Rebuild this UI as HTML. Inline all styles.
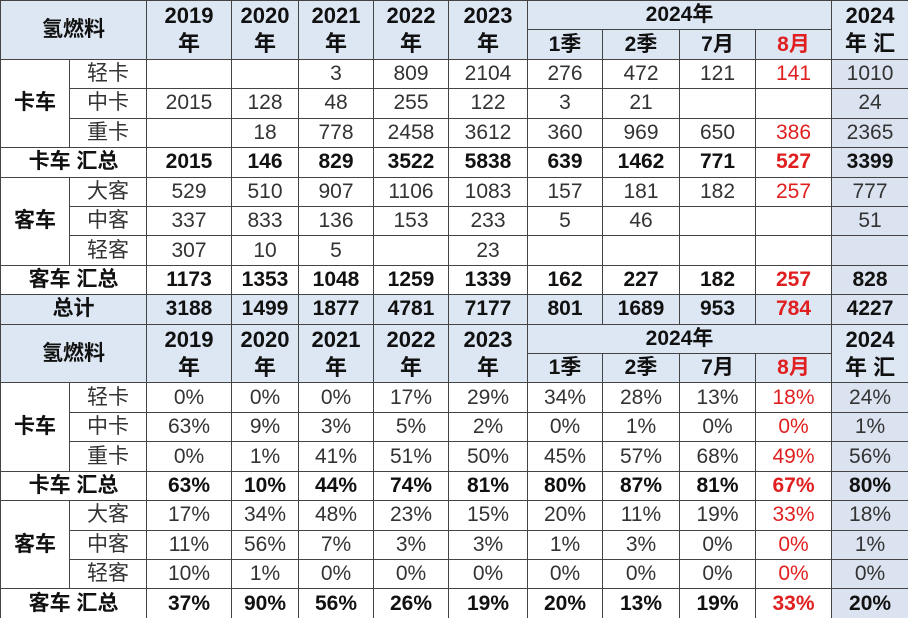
<!DOCTYPE html>
<html><head><meta charset="utf-8"><style>
html,body{margin:0;padding:0;background:#fff;width:908px;height:618px;overflow:hidden}
table{border-collapse:collapse;table-layout:fixed;width:908px;font-family:"Liberation Sans","Noto Sans CJK SC",sans-serif;font-size:21px;color:#333}
td{border:1.5px solid #444;padding:0;text-align:center;height:28.43px;line-height:26px;white-space:nowrap;overflow:hidden}
.h{background:#dde7f3;font-weight:bold;color:#111}
.h2{line-height:28px;font-size:22px}
.b{font-weight:bold;color:#111}
.r{color:#e02020}
.s{background:#dbe2f0}
.t{background:#dde7f3}
.c{font-weight:bold;color:#111}
</style></head><body>
<table>
<colgroup><col style="width:69px"><col style="width:77px"><col style="width:85px"><col style="width:67px"><col style="width:75px"><col style="width:75px"><col style="width:79px"><col style="width:75px"><col style="width:77px"><col style="width:76px"><col style="width:76px"><col style="width:77px"></colgroup>
<tr class="h"><td colspan="2" rowspan="2">氢燃料</td><td rowspan="2" class="h2">2019<br>年</td><td rowspan="2" class="h2">2020<br>年</td><td rowspan="2" class="h2">2021<br>年</td><td rowspan="2" class="h2">2022<br>年</td><td rowspan="2" class="h2">2023<br>年</td><td colspan="4">2024年</td><td rowspan="2" class="h2">2024<br>年 汇</td></tr>
<tr class="h"><td>1季</td><td>2季</td><td>7月</td><td class="r">8月</td></tr>
<tr><td rowspan="3" class="c">卡车</td><td>轻卡</td><td></td><td></td><td>3</td><td>809</td><td>2104</td><td>276</td><td>472</td><td>121</td><td class="r">141</td><td class="s">1010</td></tr>
<tr><td>中卡</td><td>2015</td><td>128</td><td>48</td><td>255</td><td>122</td><td>3</td><td>21</td><td></td><td></td><td class="s">24</td></tr>
<tr><td>重卡</td><td></td><td>18</td><td>778</td><td>2458</td><td>3612</td><td>360</td><td>969</td><td>650</td><td class="r">386</td><td class="s">2365</td></tr>
<tr class="b"><td colspan="2">卡车 汇总</td><td>2015</td><td>146</td><td>829</td><td>3522</td><td>5838</td><td>639</td><td>1462</td><td>771</td><td class="r">527</td><td class="s">3399</td></tr>
<tr><td rowspan="3" class="c">客车</td><td>大客</td><td>529</td><td>510</td><td>907</td><td>1106</td><td>1083</td><td>157</td><td>181</td><td>182</td><td class="r">257</td><td class="s">777</td></tr>
<tr><td>中客</td><td>337</td><td>833</td><td>136</td><td>153</td><td>233</td><td>5</td><td>46</td><td></td><td></td><td class="s">51</td></tr>
<tr><td>轻客</td><td>307</td><td>10</td><td>5</td><td></td><td>23</td><td></td><td></td><td></td><td></td><td class="s"></td></tr>
<tr class="b"><td colspan="2">客车 汇总</td><td>1173</td><td>1353</td><td>1048</td><td>1259</td><td>1339</td><td>162</td><td>227</td><td>182</td><td class="r">257</td><td class="s">828</td></tr>
<tr class="b t"><td colspan="2">总计</td><td>3188</td><td>1499</td><td>1877</td><td>4781</td><td>7177</td><td>801</td><td>1689</td><td>953</td><td class="r">784</td><td class="s">4227</td></tr>
<tr class="h"><td colspan="2" rowspan="2">氢燃料</td><td rowspan="2" class="h2">2019<br>年</td><td rowspan="2" class="h2">2020<br>年</td><td rowspan="2" class="h2">2021<br>年</td><td rowspan="2" class="h2">2022<br>年</td><td rowspan="2" class="h2">2023<br>年</td><td colspan="4">2024年</td><td rowspan="2" class="h2">2024<br>年 汇</td></tr>
<tr class="h"><td>1季</td><td>2季</td><td>7月</td><td class="r">8月</td></tr>
<tr><td rowspan="3" class="c">卡车</td><td>轻卡</td><td>0%</td><td>0%</td><td>0%</td><td>17%</td><td>29%</td><td>34%</td><td>28%</td><td>13%</td><td class="r">18%</td><td class="s">24%</td></tr>
<tr><td>中卡</td><td>63%</td><td>9%</td><td>3%</td><td>5%</td><td>2%</td><td>0%</td><td>1%</td><td>0%</td><td class="r">0%</td><td class="s">1%</td></tr>
<tr><td>重卡</td><td>0%</td><td>1%</td><td>41%</td><td>51%</td><td>50%</td><td>45%</td><td>57%</td><td>68%</td><td class="r">49%</td><td class="s">56%</td></tr>
<tr class="b"><td colspan="2">卡车 汇总</td><td>63%</td><td>10%</td><td>44%</td><td>74%</td><td>81%</td><td>80%</td><td>87%</td><td>81%</td><td class="r">67%</td><td class="s">80%</td></tr>
<tr><td rowspan="3" class="c">客车</td><td>大客</td><td>17%</td><td>34%</td><td>48%</td><td>23%</td><td>15%</td><td>20%</td><td>11%</td><td>19%</td><td class="r">33%</td><td class="s">18%</td></tr>
<tr><td>中客</td><td>11%</td><td>56%</td><td>7%</td><td>3%</td><td>3%</td><td>1%</td><td>3%</td><td>0%</td><td class="r">0%</td><td class="s">1%</td></tr>
<tr><td>轻客</td><td>10%</td><td>1%</td><td>0%</td><td>0%</td><td>0%</td><td>0%</td><td>0%</td><td>0%</td><td class="r">0%</td><td class="s">0%</td></tr>
<tr class="b"><td colspan="2">客车 汇总</td><td>37%</td><td>90%</td><td>56%</td><td>26%</td><td>19%</td><td>20%</td><td>13%</td><td>19%</td><td class="r">33%</td><td class="s">20%</td></tr>
</table>
</body></html>
